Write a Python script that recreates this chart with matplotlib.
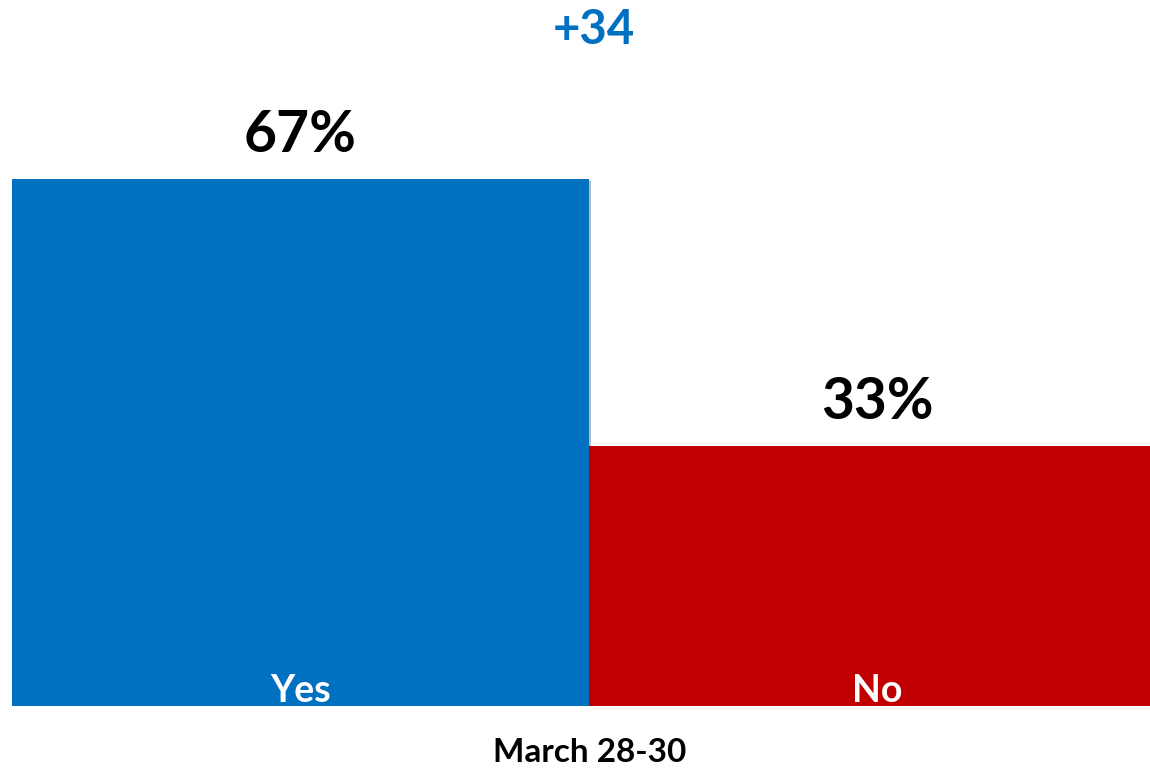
import matplotlib
matplotlib.use("Agg")
import matplotlib.pyplot as plt
import matplotlib.patheffects as pe

# ── data ------------------------------------------------------------------- #
answers = ["Yes", "No"]
shares = [67, 33]
colors = ["#0070C0", "#C00000"]
margin_label = "+34"
period_label = "March 28-30"

plt.rcParams["font.family"] = ["Lato", "DejaVu Sans"]

fig = plt.figure(figsize=(11.5, 7.68), dpi=100)
# axes: left edge at 12px, baseline at 706px; second bar runs past the right edge
ax = fig.add_axes([12 / 1150, 62 / 768, 1154 / 1150, 706 / 768])

bars = ax.bar(range(len(answers)), shares, width=1.0, color=colors,
              edgecolor="none", align="center")
for b in bars:
    b.set_path_effects([pe.SimplePatchShadow(offset=(1.5, -1.5), alpha=0.3),
                        pe.Normal()])

ax.set_xlim(-0.5, len(answers) - 0.5)
ax.set_ylim(0, 706 / (527 / 67))
ax.axis("off")

# value labels above bars, category labels inside bottom
for i, (a, v) in enumerate(zip(answers, shares)):
    ax.text(i, v + 2.2, f"{v}%", ha="center", va="bottom",
            fontsize=41, fontweight="bold", color="black")
    ax.text(i, 1.9, a, ha="center", va="center",
            fontsize=27, fontweight="bold", color="white")

fig.text(594 / 1150, 1 - 30 / 768, margin_label, ha="center", va="center",
         fontsize=34, fontweight="bold", color="#0070C0")
fig.text(590 / 1150, 1 - 752 / 768, period_label, ha="center", va="center",
         fontsize=24, fontweight="bold", color="black")

fig.savefig("out.png", dpi=100)
